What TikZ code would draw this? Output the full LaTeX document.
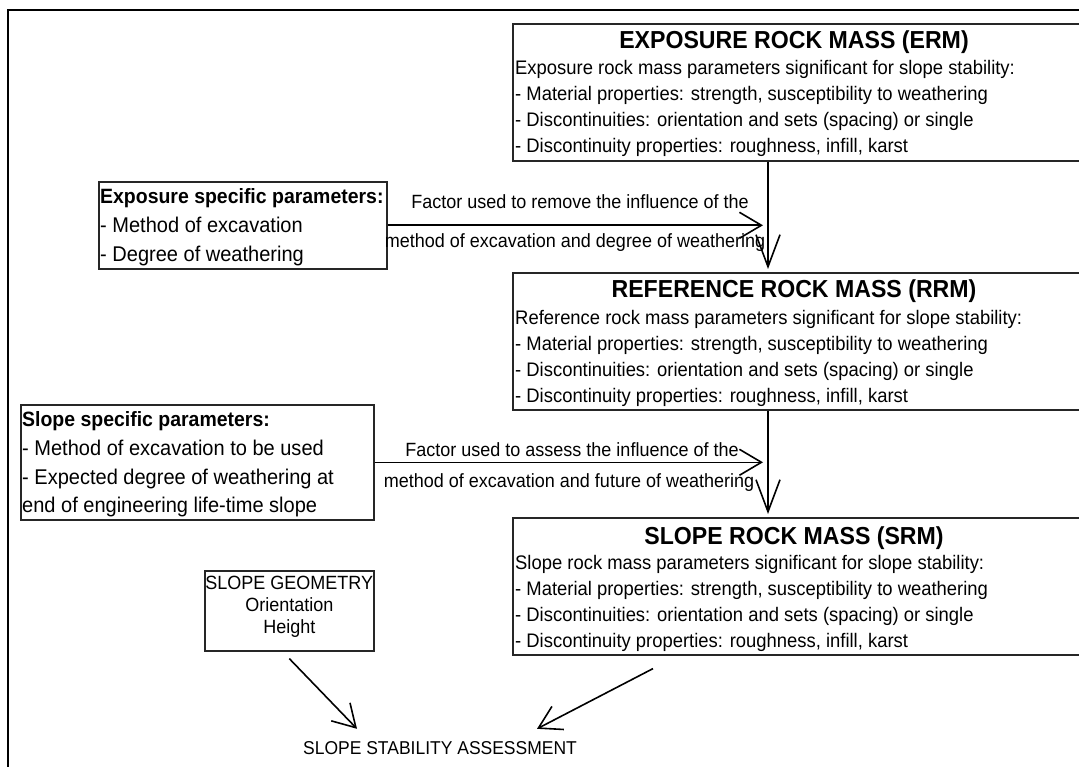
\documentclass[tikz,border=0pt]{standalone}
\usepackage{fontspec}
\setmainfont{Liberation Sans}[FakeStretch=0.94]
\usetikzlibrary{arrows.meta,calc}
\begin{document}
\begin{tikzpicture}[x=1pt,y=-1pt,
  box/.style={draw=black!85, line width=1.6pt, inner sep=0pt, anchor=north west},
  ttl/.style={font=\fontsize{24.6}{24.6}\selectfont\bfseries, anchor=base, inner sep=0pt},
  txt/.style={font=\fontsize{19.6}{19.6}\selectfont, anchor=base west, inner sep=0pt},
  ltxt/.style={font=\fontsize{21.3}{21.3}\selectfont, anchor=base west, inner sep=0pt},
  lbold/.style={font=\fontsize{20.7}{20.7}\selectfont\bfseries, anchor=base west, inner sep=0pt},
  lbl/.style={font=\fontsize{19.15}{19.15}\selectfont, anchor=base, inner sep=0pt},
  varr/.style={line width=1.6pt, -{Straight Barb[length=32pt,width=24pt,line width=1.6pt]}},
  harr/.style={line width=1.6pt, -{Straight Barb[length=22pt,width=26pt,line width=1.6pt]}},
]
\useasboundingbox (0,0) rectangle (1079,767);
\draw[line width=2.6pt] (8,767) -- (8,10) -- (1079,10);

% big boxes
\node[box, minimum width=570, minimum height=137] (erm) at (512,23) {};
\node[box, minimum width=570, minimum height=137] (rrm) at (512,272) {};
\node[box, minimum width=570, minimum height=137] (srm) at (512,517) {};

\node[ttl] (ermT) at ($(erm.north west)+(282,26)$) {EXPOSURE ROCK MASS (ERM)};
\node[txt] (erm1) at ($(erm.north west)+(3,52)$) {Exposure rock mass parameters significant for slope stability:};
\node[txt] (erm2) at ($(erm.north west)+(3,78)$) {- Material properties: strength, susceptibility to weathering};
\node[txt] (erm3) at ($(erm.north west)+(3,104)$) {- Discontinuities: orientation and sets (spacing) or single};
\node[txt] (erm4) at ($(erm.north west)+(3,130)$) {- Discontinuity properties: roughness, infill, karst};

\node[ttl] (rrmT) at ($(rrm.north west)+(282,26)$) {REFERENCE ROCK MASS (RRM)};
\node[txt] (rrm1) at ($(rrm.north west)+(3,52)$) {Reference rock mass parameters significant for slope stability:};
\node[txt] (rrm2) at ($(rrm.north west)+(3,78)$) {- Material properties: strength, susceptibility to weathering};
\node[txt] (rrm3) at ($(rrm.north west)+(3,104)$) {- Discontinuities: orientation and sets (spacing) or single};
\node[txt] (rrm4) at ($(rrm.north west)+(3,130)$) {- Discontinuity properties: roughness, infill, karst};

\node[ttl] (srmT) at ($(srm.north west)+(282,27)$) {SLOPE ROCK MASS (SRM)};
\node[txt] (srm1) at ($(srm.north west)+(3,52)$) {Slope rock mass parameters significant for slope stability:};
\node[txt] (srm2) at ($(srm.north west)+(3,78)$) {- Material properties: strength, susceptibility to weathering};
\node[txt] (srm3) at ($(srm.north west)+(3,104)$) {- Discontinuities: orientation and sets (spacing) or single};
\node[txt] (srm4) at ($(srm.north west)+(3,130)$) {- Discontinuity properties: roughness, infill, karst};

% left boxes
\node[box, minimum width=288, minimum height=87] (exp) at (98,181) {};
\node[lbold] (exp1) at ($(exp.north west)+(2,23)$) {Exposure specific parameters:};
\node[ltxt] (exp2) at ($(exp.north west)+(2,52)$) {- Method of excavation};
\node[ltxt] (exp3) at ($(exp.north west)+(2,81)$) {- Degree of weathering};

\node[box, minimum width=353, minimum height=115] (slp) at (20,404) {};
\node[lbold] (slp1) at ($(slp.north west)+(2,22)$) {Slope specific parameters:};
\node[ltxt] (slp2) at ($(slp.north west)+(2,51)$) {- Method of excavation to be used};
\node[ltxt] (slp3) at ($(slp.north west)+(2,80)$) {- Expected degree of weathering at};
\node[ltxt] (slp4) at ($(slp.north west)+(2,108)$) {end of engineering life-time slope};

\node[box, minimum width=169, minimum height=80] (geo) at (204,570) {};
\node[lbl] (geo1) at ($(geo.north)+(0,19)$) {SLOPE GEOMETRY};
\node[lbl] (geo2) at ($(geo.north)+(0,41)$) {Orientation};
\node[lbl] (geo3) at ($(geo.north)+(0,63)$) {Height};

\node[lbl, font=\fontsize{18.6}{18.6}\selectfont] (ssa) at (440,754) {SLOPE STABILITY ASSESSMENT};

% connectors
\coordinate (xv) at (768,0);
\draw[varr] (erm.south -| xv) -- ($(rrm.north -| xv)+(0,-3)$);
\draw[varr] (rrm.south -| xv) -- ($(srm.north -| xv)+(0,-3)$);

\draw[harr] (exp.east) -- ($(exp.east -| xv)+(-5,0)$);
\node[lbl] (f1a) at (580,209) {Factor used to remove the influence of the};
\node[lbl] (f1b) at (575,248) {method of excavation and degree of weathering};

\draw[harr] (slp.east) -- ($(slp.east -| xv)+(-5,0)$);
\node[lbl] (f2a) at (572,456) {Factor used to assess the influence of the};
\node[lbl] (f2b) at (569,487) {method of excavation and future of weathering};

\draw[harr] ($(geo.south)+(0,7)$) -- ($(ssa.north)+(-83,-12)$);
\draw[harr] ($(srm.south west)+(141,13)$) -- ($(ssa.north)+(97,-12)$);
\end{tikzpicture}
\end{document}
